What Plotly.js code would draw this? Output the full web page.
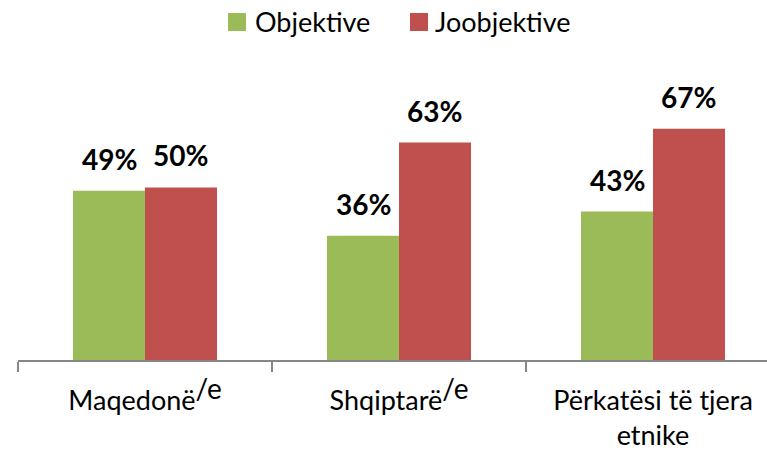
<!DOCTYPE html>
<html><head><meta charset="utf-8">
<script src="https://cdn.plot.ly/plotly-3.0.1.min.js"></script>
<style>html,body{margin:0;padding:0;overflow:hidden;background:#fff;width:767px;height:452px}</style>
</head><body><div id="chart"></div>
<script>
const categories = ["Maqedonë<sup><span style='font-size:28px'>/e</span></sup>", "Shqiptarë<sup><span style='font-size:28px'>/e</span></sup>", "Përkatësi të tjera<br>etnike"];
const seriesNames = ["Objektive", "Joobjektive"];
const objektive = [49, 36, 43];
const joobjektive = [50, 63, 67];
const colors = ["#9BBB59", "#C0504D"];

const font = "Lato, 'Open Sans', sans-serif";
const traces = [objektive, joobjektive].map((vals, i) => ({
  type: "bar", name: seriesNames[i], x: categories, y: vals,
  marker: {color: colors[i]}, hoverinfo: "skip", showlegend: false
}));

const annotations = [];
[objektive, joobjektive].forEach((vals, i) => {
  vals.forEach((v, j) => {
    annotations.push({x: j + (i === 0 ? -0.1417 : 0.1417), y: v, xref: "x", yref: "y",
      text: "<b>" + v + "%</b>", showarrow: false, yanchor: "bottom", yshift: 13,
      font: {family: font, size: 28, color: "#000"}});
  });
});

// legend drawn as squares + text
const legX = [[0.2756, 0.2992], [0.5144, 0.5381]];
const legTextX = [0.3123, 0.5486];
const shapes = [];
seriesNames.forEach((n, i) => {
  shapes.push({type: "rect", xref: "paper", yref: "paper", x0: legX[i][0], x1: legX[i][1],
    y0: 0.9139, y1: 0.9639, fillcolor: colors[i], line: {width: 0}});
  annotations.push({xref: "paper", yref: "paper", x: legTextX[i] - 0.004, y: 0.939, xanchor: "left",
    yanchor: "middle", showarrow: false, text: n, font: {family: font, size: 27, color: "#000"}});
});

const layout = {
  width: 800, height: 452,
  margin: {l: 18, r: 20, t: 0, b: 92},
  barmode: "group", bargap: 0.433, bargroupgap: 0,
  paper_bgcolor: "#fff", plot_bgcolor: "#fff",
  showlegend: false,
  xaxis: {type: "category", showline: true, linecolor: "#868686", linewidth: 1.5,
    ticks: "outside", tickson: "boundaries", ticklen: 10, tickcolor: "#868686", tickwidth: 1.5,
    tickfont: {family: font, size: 27, color: "#000"}, ticklabelstandoff: 16,
    showgrid: false, zeroline: false},
  yaxis: {range: [0, 104.3], visible: false, showgrid: false, zeroline: false},
  shapes: shapes,
  annotations: annotations
};
Plotly.newPlot("chart", traces, layout, {displayModeBar: false, staticPlot: true});
</script></body></html>
